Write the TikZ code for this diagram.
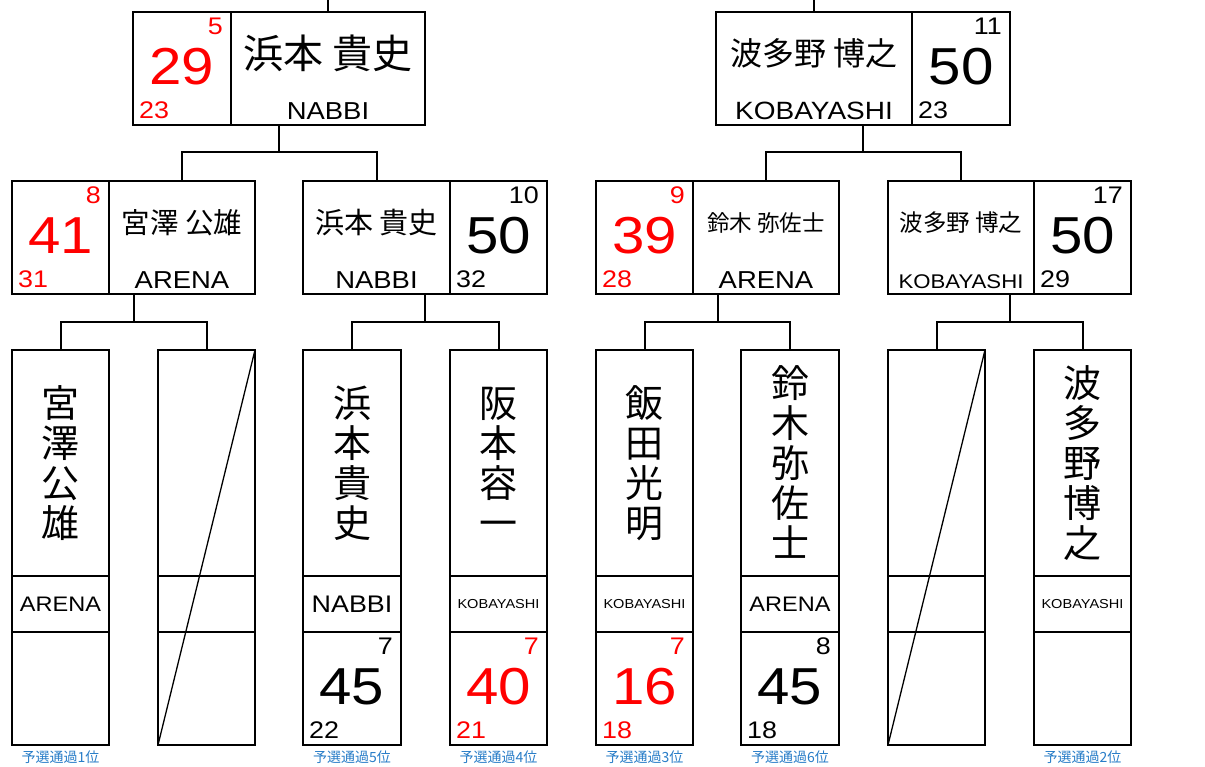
\documentclass[tikz,border=0pt]{standalone}
\usepackage{fontspec}
\usetikzlibrary{calc}
\newfontfamily\jpfam{Noto Sans CJK JP}
\newfontfamily\latfam[FakeStretch=1.12]{Liberation Sans}
\newcommand{\jpsz}[1]{\jpfam\fontsize{#1}{#1}\selectfont}
\newcommand{\latsz}[1]{\latfam\fontsize{#1}{#1}\selectfont}
\newcommand{\chstrut}{\rule[-5.6pt]{0pt}{40pt}}
\definecolor{scred}{RGB}{255,0,0}
\definecolor{lblblue}{RGB}{40,125,200}
\newcommand{\scoreset}[5]{%
  \node[bignum,text=#5] (#1-big) at ($(#1.north)+(0,72)$) {#2};
  \node[smallnum,text=#5,anchor=base east] (#1-top) at ($(#1.north east)+(-8,22.5)$) {#3};
  \node[smallnum,text=#5,anchor=base west] (#1-bot) at ($(#1.south west)+(6,-6.5)$) {#4};
}
\newcommand{\nameset}[5]{%
  \node[bigname=#3] (#1-name) at ($(#1.north)+(0,41.5)$) {#2};
  \node[team=#5,anchor=base] (#1-team) at ($(#1.south)+(0,-6)$) {#4};
}
\begin{document}
\begin{tikzpicture}[x=1pt,y=-1pt,
  cell/.style 2 args={draw=black,line width=2pt,minimum width=#1,minimum height=#2,inner sep=0pt,outer sep=0pt},
  conn/.style={draw=black,line width=2pt},
  diag/.style={draw=black,line width=1.3pt},
  bignum/.style={font=\latsz{52},inner sep=0pt,anchor=base},
  smallnum/.style={font=\latsz{24},inner sep=0pt},
  bigname/.style={font=\jpsz{#1},inner sep=0pt},
  team/.style={font=\latsz{#1},inner sep=0pt},
  vname/.style={font=\jpfam\fontsize{38}{40}\selectfont,align=center,inner sep=0pt},
  qual/.style={font=\jpsz{14},text=lblblue,inner sep=0pt}
]
\useasboundingbox[fill=white] (0,0) rectangle (1205,766);

% ---------- row 1 ----------
\node[cell={98pt}{113pt}] (T1s) at (182,68.5) {};
\node[cell={194pt}{113pt}] (T1n) at (328,68.5) {};
\node[cell={196pt}{113pt}] (T2n) at (814,68.5) {};
\node[cell={98pt}{113pt}] (T2s) at (961,68.5) {};

% ---------- row 2 ----------
\node[cell={97pt}{113pt}] (As) at (60.5,237.5) {};
\node[cell={146pt}{113pt}] (An) at (182,237.5) {};
\node[cell={147pt}{113pt}] (Bn) at (376.5,237.5) {};
\node[cell={97pt}{113pt}] (Bs) at (498.5,237.5) {};
\node[cell={97pt}{113pt}] (Cs) at (644.5,237.5) {};
\node[cell={146pt}{113pt}] (Cn) at (766,237.5) {};
\node[cell={146pt}{113pt}] (Dn) at (961,237.5) {};
\node[cell={97pt}{113pt}] (Ds) at (1082.5,237.5) {};

% ---------- row 3 ----------
\foreach \i/\cx/\w in {1/60.5/97,2/206.5/97,3/352/98,4/498.5/97,5/644.5/97,6/790/98,7/936.5/97,8/1082.5/97}{
  \node[cell={\w pt}{226pt}] (N\i) at (\cx,463) {};
  \node[cell={\w pt}{56pt}] (M\i) at (\cx,604) {};
  \node[cell={\w pt}{113pt}] (S\i) at (\cx,688.5) {};
}

% ---------- connectors ----------
\coordinate (up1) at (328,0);
\coordinate (up2) at (814,0);
\draw[conn] (up1) -- (T1n.north);
\draw[conn] (up2) -- (T2n.north);

\coordinate (j1) at (279,152);
\coordinate (j2) at (863,152);
\draw[conn] (j1 |- T1n.south) -- (j1);
\draw[conn] (An.north) |- (j1) -| (Bn.north);
\draw[conn] (j2 |- T2n.south) -- (j2);
\draw[conn] (Cn.north) |- (j2) -| (Dn.north);

\coordinate (jA) at (133.5,322);
\coordinate (jB) at (425,322);
\coordinate (jC) at (717.5,322);
\coordinate (jD) at (1009.5,322);
\draw[conn] (jA |- An.south) -- (jA);
\draw[conn] (N1.north) |- (jA) -| (N2.north);
\draw[conn] (jB |- Bn.south) -- (jB);
\draw[conn] (N3.north) |- (jB) -| (N4.north);
\draw[conn] (jC |- Cn.south) -- (jC);
\draw[conn] (N5.north) |- (jC) -| (N6.north);
\draw[conn] (jD |- Dn.south) -- (jD);
\draw[conn] (N7.north) |- (jD) -| (N8.north);

% empty slots
\draw[diag] (S2.south west) -- (N2.north east);
\draw[diag] (S7.south west) -- (N7.north east);

% ---------- texts row 1 ----------
\scoreset{T1s}{29}{5}{23}{scred}
\nameset{T1n}{浜本 貴史}{40}{NABBI}{24.5}
\nameset{T2n}{波多野 博之}{32}{KOBAYASHI}{25}
\scoreset{T2s}{50}{11}{23}{black}

% ---------- texts row 2 ----------
\scoreset{As}{41}{8}{31}{scred}
\nameset{An}{宮澤 公雄}{28.5}{ARENA}{24.5}
\nameset{Bn}{浜本 貴史}{29}{NABBI}{24.5}
\scoreset{Bs}{50}{10}{32}{black}
\scoreset{Cs}{39}{9}{28}{scred}
\nameset{Cn}{鈴木 弥佐士}{22.5}{ARENA}{24.5}
\nameset{Dn}{波多野 博之}{23.5}{KOBAYASHI}{19.8}
\scoreset{Ds}{50}{17}{29}{black}

% ---------- texts row 3 ----------
\node[vname] (N1-txt) at (N1.center) {宮\chstrut\\澤\chstrut\\公\chstrut\\雄\chstrut};
\node[vname] (N3-txt) at (N3.center) {浜\chstrut\\本\chstrut\\貴\chstrut\\史\chstrut};
\node[vname] (N4-txt) at (N4.center) {阪\chstrut\\本\chstrut\\容\chstrut\\一\chstrut};
\node[vname] (N5-txt) at (N5.center) {飯\chstrut\\田\chstrut\\光\chstrut\\明\chstrut};
\node[vname] (N6-txt) at (N6.center) {鈴\chstrut\\木\chstrut\\弥\chstrut\\佐\chstrut\\士\chstrut};
\node[vname] (N8-txt) at (N8.center) {波\chstrut\\多\chstrut\\野\chstrut\\博\chstrut\\之\chstrut};

\node[team=21] (M1-txt) at (M1.center) {ARENA};
\node[team=24] (M3-txt) at (M3.center) {NABBI};
\node[team=13] (M4-txt) at (M4.center) {KOBAYASHI};
\node[team=13] (M5-txt) at (M5.center) {KOBAYASHI};
\node[team=21] (M6-txt) at (M6.center) {ARENA};
\node[team=13] (M8-txt) at (M8.center) {KOBAYASHI};

\scoreset{S3}{45}{7}{22}{black}
\scoreset{S4}{40}{7}{21}{scred}
\scoreset{S5}{16}{7}{18}{scred}
\scoreset{S6}{45}{8}{18}{black}

\node[qual] (Q1) at ($(S1.south)+(0,12.5)$) {予選通過1位};
\node[qual] (Q3) at ($(S3.south)+(0,12.5)$) {予選通過5位};
\node[qual] (Q4) at ($(S4.south)+(0,12.5)$) {予選通過4位};
\node[qual] (Q5) at ($(S5.south)+(0,12.5)$) {予選通過3位};
\node[qual] (Q6) at ($(S6.south)+(0,12.5)$) {予選通過6位};
\node[qual] (Q8) at ($(S8.south)+(0,12.5)$) {予選通過2位};
\end{tikzpicture}
\end{document}
